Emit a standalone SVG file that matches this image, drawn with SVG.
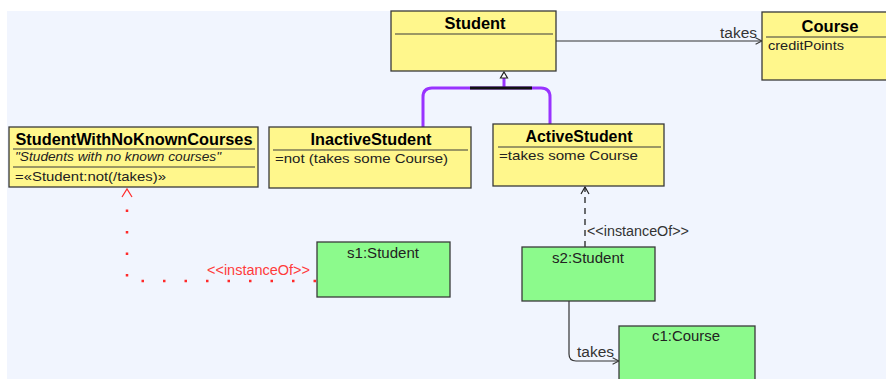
<svg xmlns="http://www.w3.org/2000/svg" width="886" height="379" viewBox="0 0 886 379">
  <style>
    .cls { fill: #fff78c; stroke: #3a3a3a; stroke-width: 1.3; }
    .obj { fill: #8cfa8c; stroke: #3a3a3a; stroke-width: 1.3; }
    .sep { stroke: #3a3a3a; stroke-width: 1.2; }
    .title { font-family: "Liberation Sans", Arial, sans-serif; font-weight: bold; font-size: 16px; fill: #000; text-anchor: middle; }
    .body { font-family: "Liberation Sans", Arial, sans-serif; font-size: 13px; fill: #222; }
    .objlbl { font-family: "Liberation Sans", Arial, sans-serif; font-size: 14px; fill: #222; text-anchor: middle; }
    .lbl { font-family: "Liberation Sans", Arial, sans-serif; font-size: 14px; fill: #333; }
    .wire { fill: none; stroke: #333; stroke-width: 1.2; }
  </style>
  <defs>
    <marker id="open" viewBox="0 0 10 10" refX="9" refY="5" markerWidth="8" markerHeight="8" markerUnits="userSpaceOnUse" orient="auto">
      <path d="M1,1 L9,5 L1,9" fill="none" stroke="#333" stroke-width="1.3"/>
    </marker>
  </defs>

  <!-- canvas -->
  <rect x="0" y="0" width="886" height="379" fill="#ffffff"/>
  <rect x="7" y="11" width="879" height="368" fill="#f1f5fe"/>

  <!-- connectors -->
  <g id="connectors">
    <!-- Student takes Course -->
    <line x1="556" y1="41" x2="762" y2="41" class="wire" marker-end="url(#open)"/>
    <text x="720" y="38" class="lbl" textLength="37" lengthAdjust="spacingAndGlyphs">takes</text>

    <!-- generalization set -->
    <path d="M423,127 V97 Q423,88 432,88 H541 Q550,88 550,97 V124" fill="none" stroke="#9933ff" stroke-width="3"/>
    <line x1="504" y1="78" x2="504" y2="88" stroke="#9933ff" stroke-width="3"/>
    <line x1="470" y1="88" x2="532" y2="88" stroke="#111" stroke-width="3"/>
    <path d="M504,72 L507.5,78 L500.5,78 Z" fill="#ffffff" stroke="#222" stroke-width="1.2"/>

    <!-- s1 instanceOf StudentWithNoKnownCourses -->
    <path d="M316,281 H127 V197" fill="none" stroke="#ff2a2a" stroke-width="2.5" stroke-dasharray="2.5 19"/>
    <path d="M122,197 L127,189 L132,197" fill="none" stroke="#ff2a2a" stroke-width="1.2"/>
    <text x="207" y="275" class="lbl" fill="#ff3b3b" style="fill:#ff3b3b" textLength="103" lengthAdjust="spacingAndGlyphs">&lt;&lt;instanceOf&gt;&gt;</text>

    <!-- s2 instanceOf ActiveStudent -->
    <line x1="585" y1="247" x2="585" y2="187" stroke="#222" stroke-width="1.3" stroke-dasharray="6 5"/>
    <path d="M581,194 L585,187 L589,194" fill="none" stroke="#222" stroke-width="1.2"/>
    <text x="587" y="236" class="lbl" textLength="102" lengthAdjust="spacingAndGlyphs">&lt;&lt;instanceOf&gt;&gt;</text>

    <!-- s2 takes c1 -->
    <path d="M569,301 V354 Q569,361 576,361 H619" class="wire" marker-end="url(#open)"/>
    <text x="577" y="357" class="lbl" textLength="37" lengthAdjust="spacingAndGlyphs">takes</text>
  </g>

  <!-- classes -->
  <g id="Student">
    <rect x="391" y="11" width="165" height="60" class="cls"/>
    <line x1="395" y1="34" x2="553" y2="34" class="sep"/>
    <text x="475" y="29" class="title" textLength="61" lengthAdjust="spacingAndGlyphs">Student</text>
  </g>

  <g id="Course">
    <rect x="762" y="12" width="130" height="68" class="cls"/>
    <line x1="766" y1="37" x2="886" y2="37" class="sep"/>
    <text x="830" y="32" class="title" textLength="57" lengthAdjust="spacingAndGlyphs">Course</text>
    <text x="768" y="50" class="body" textLength="76" lengthAdjust="spacingAndGlyphs">creditPoints</text>
  </g>

  <g id="StudentWithNoKnownCourses">
    <rect x="9" y="127" width="249" height="60" class="cls"/>
    <line x1="13" y1="149" x2="255" y2="149" class="sep"/>
    <line x1="13" y1="167" x2="255" y2="167" class="sep"/>
    <text x="134" y="145" class="title" textLength="237" lengthAdjust="spacingAndGlyphs">StudentWithNoKnownCourses</text>
    <text x="15" y="161" class="body" font-style="italic" font-size="11.5" textLength="206" lengthAdjust="spacingAndGlyphs">"Students with no known courses"</text>
    <text x="15" y="181" class="body" textLength="151" lengthAdjust="spacingAndGlyphs">=«Student:not(/takes)»</text>
  </g>

  <g id="InactiveStudent">
    <rect x="269" y="127" width="202" height="61" class="cls"/>
    <line x1="273" y1="150" x2="468" y2="150" class="sep"/>
    <text x="371" y="145" class="title" textLength="121" lengthAdjust="spacingAndGlyphs">InactiveStudent</text>
    <text x="275" y="163" class="body" textLength="173" lengthAdjust="spacingAndGlyphs">=not (takes some Course)</text>
  </g>

  <g id="ActiveStudent">
    <rect x="493" y="124" width="171" height="62" class="cls"/>
    <line x1="498" y1="147" x2="661" y2="147" class="sep"/>
    <text x="579" y="142" class="title" textLength="107" lengthAdjust="spacingAndGlyphs">ActiveStudent</text>
    <text x="499" y="160" class="body" textLength="139" lengthAdjust="spacingAndGlyphs">=takes some Course</text>
  </g>

  <!-- instances -->
  <g id="s1">
    <rect x="317" y="242" width="133" height="55" class="obj"/>
    <text x="383" y="258" class="objlbl" textLength="72" lengthAdjust="spacingAndGlyphs">s1:Student</text>
  </g>

  <g id="s2">
    <rect x="522" y="247" width="133" height="54" class="obj"/>
    <text x="588" y="263" class="objlbl" textLength="72" lengthAdjust="spacingAndGlyphs">s2:Student</text>
  </g>

  <g id="c1">
    <rect x="619" y="326" width="136" height="60" class="obj"/>
    <text x="686" y="341" class="objlbl" textLength="68" lengthAdjust="spacingAndGlyphs">c1:Course</text>
  </g>
</svg>
